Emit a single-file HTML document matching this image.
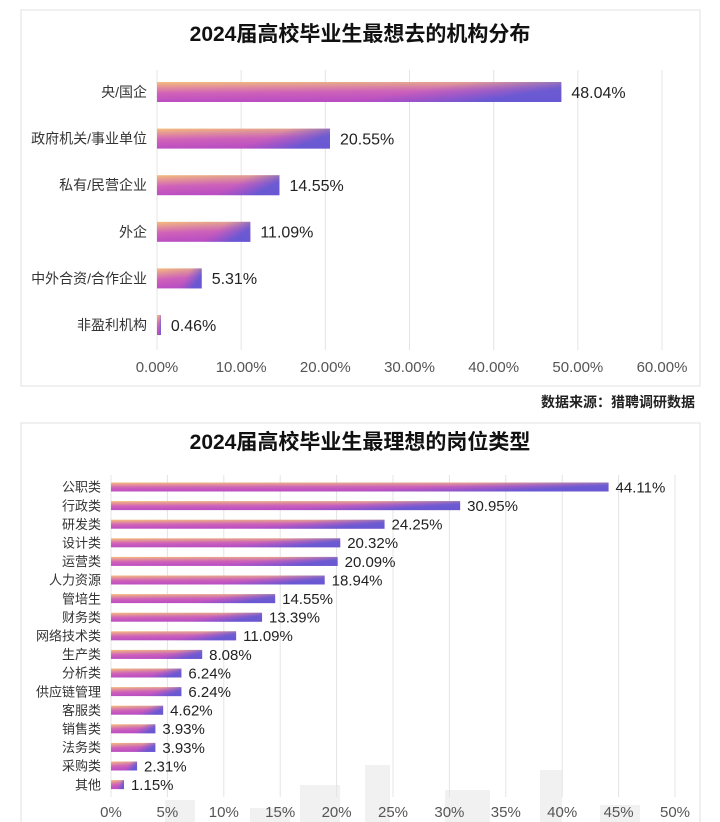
<!DOCTYPE html>
<html><head><meta charset="utf-8">
<style>
html,body{margin:0;padding:0;background:#fff;}
body{width:720px;height:822px;overflow:hidden;font-family:"Liberation Sans","Noto Sans CJK SC",sans-serif;}
svg{display:block;}
</style></head>
<body>
<svg id="svg" width="720" height="822" xmlns="http://www.w3.org/2000/svg">
<defs>
<linearGradient id="gBase" x1="0" y1="0" x2="0.15" y2="1">
<stop offset="0" stop-color="#f6bd7c"/><stop offset="0.55" stop-color="#d462b8"/><stop offset="1" stop-color="#bf4cc0"/>
</linearGradient>
<linearGradient id="gOver" x1="0" y1="0" x2="1" y2="0.3">
<stop offset="0" stop-color="#6a5ad8" stop-opacity="0"/><stop offset="0.7" stop-color="#8a58d0" stop-opacity="0.12"/><stop offset="1" stop-color="#5a5ad6" stop-opacity="0.85"/>
</linearGradient>
</defs>
<g id="skyline" fill="#f1f1f1">
<rect x="165" y="800" width="30" height="22"/><rect x="300" y="785" width="40" height="37"/>
<rect x="365" y="765" width="25" height="57"/><rect x="445" y="790" width="45" height="32"/>
<rect x="540" y="770" width="22" height="52"/><rect x="600" y="805" width="40" height="17"/>
<rect x="250" y="808" width="40" height="14"/>
</g>
<rect x="21" y="10" width="679" height="376" fill="none" stroke="#e2e2e2"/>
<rect x="21" y="423" width="679" height="420" fill="none" stroke="#e2e2e2"/>
<text x="360" y="41" text-anchor="middle" font-size="21" font-weight="bold" fill="#111">2024届高校毕业生最想去的机构分布</text>
<text x="695" y="407" text-anchor="end" font-size="14" font-weight="bold" fill="#222">数据来源：猎聘调研数据</text>
<text x="360" y="449" text-anchor="middle" font-size="21" font-weight="bold" fill="#111">2024届高校毕业生最理想的岗位类型</text>
<g id="c1"></g>
<g id="c2"></g>
</svg>
<script>
const cats1 = ["央/国企","政府机关/事业单位","私有/民营企业","外企","中外合资/合作企业","非盈利机构"];
const vals1 = [48.04,20.55,14.55,11.09,5.31,0.46];
const ticks1 = [0,10,20,30,40,50,60];
const tickLabels1 = ["0.00%","10.00%","20.00%","30.00%","40.00%","50.00%","60.00%"];

const cats2 = ["公职类","行政类","研发类","设计类","运营类","人力资源","管培生","财务类","网络技术类","生产类","分析类","供应链管理","客服类","销售类","法务类","采购类","其他"];
const vals2 = [44.11,30.95,24.25,20.32,20.09,18.94,14.55,13.39,11.09,8.08,6.24,6.24,4.62,3.93,3.93,2.31,1.15];
const ticks2 = [0,5,10,15,20,25,30,35,40,45,50];
const tickLabels2 = ["0%","5%","10%","15%","20%","25%","30%","35%","40%","45%","50%"];

const NS="http://www.w3.org/2000/svg";
function mk(tag,attrs,parent,text){const e=document.createElementNS(NS,tag);for(const k in attrs)e.setAttribute(k,attrs[k]);if(text!==undefined)e.textContent=text;parent.appendChild(e);return e;}

function draw(g,cfg,cats,vals,ticks,tickLabels,prefix){
  const x=v=>cfg.x0+(v-cfg.min)/(cfg.max-cfg.min)*(cfg.x1-cfg.x0);
  const y=i=>cfg.yFirst+i*cfg.step;
  ticks.forEach((t,i)=>{
    const l=mk('line',{x1:x(t),x2:x(t),y1:cfg.gTop,y2:cfg.gBot,stroke:'#e4e4e4','stroke-width':1},g);
    
    
    const tx=mk('text',{x:x(t),y:cfg.tickY,'text-anchor':'middle','font-size':cfg.tickFs,fill:'#555'},g,tickLabels[i]);
    
    
  });
  cats.forEach((c,i)=>{
    const cy=y(i), w=Math.max(x(vals[i])-x(0),1.5);
    const lb=mk('text',{x:cfg.x0-cfg.labGap,y:cy+cfg.labFs*0.36,'text-anchor':'end','font-size':cfg.labFs,fill:'#333'},g,c);
    
    
    const b=mk('rect',{x:x(0),y:cy-cfg.bh/2,width:w,height:cfg.bh,fill:'url(#gBase)'},g);
    
    
    const o=mk('rect',{x:x(0),y:cy-cfg.bh/2,width:w,height:cfg.bh,fill:'url(#gOver)'},g);
    
    
    const v=mk('text',{x:x(0)+w+cfg.valGap,y:cy+cfg.valFs*0.36,'font-size':cfg.valFs,fill:'#222'},g,vals[i].toFixed(2)+'%');
    
    
  });
}
draw(document.getElementById('c1'),{x0:157,x1:662,min:0,max:60,yFirst:92,step:46.6,bh:20,gTop:70,gBot:350,tickY:372,tickFs:15,labFs:14,labGap:10,valFs:16,valGap:10},cats1,vals1,ticks1,tickLabels1,'chart1');
draw(document.getElementById('c2'),{x0:111,x1:675,min:0,max:50,yFirst:487,step:18.6,bh:9,gTop:475,gBot:797,tickY:817,tickFs:15,labFs:13,labGap:10,valFs:15,valGap:7},cats2,vals2,ticks2,tickLabels2,'chart2');
</script>
</body></html>
